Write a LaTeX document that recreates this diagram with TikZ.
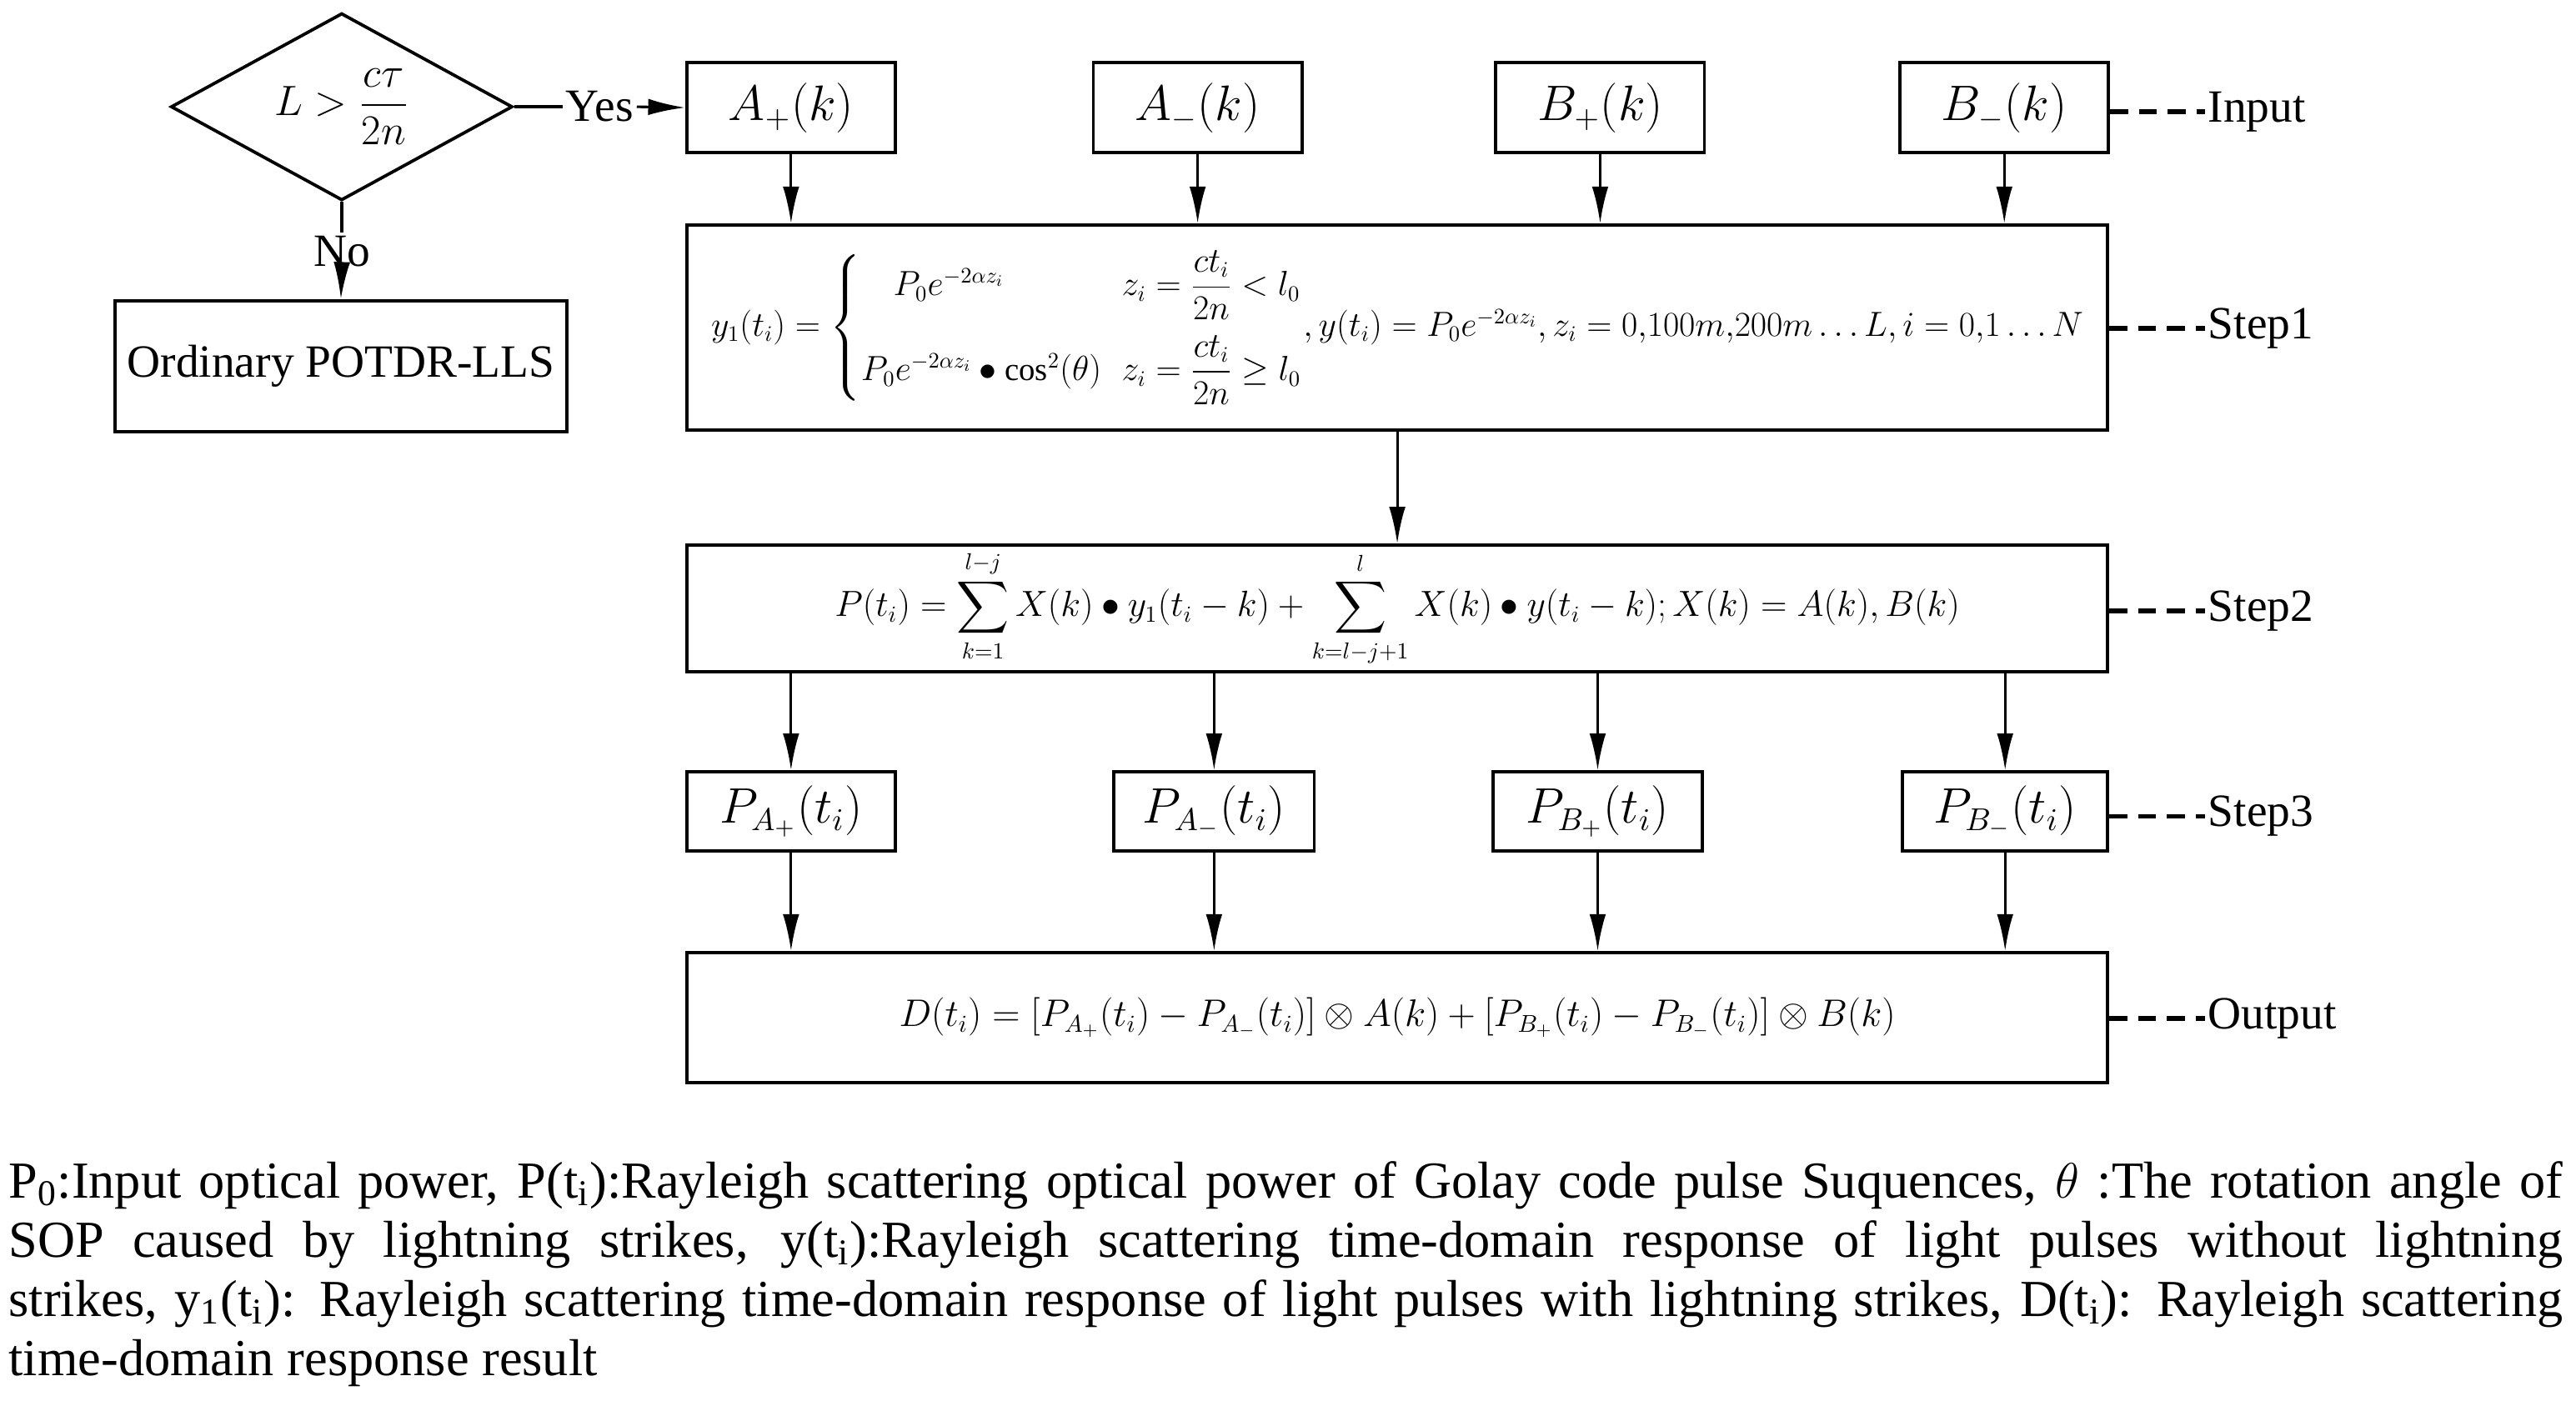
\documentclass[tikz,border=0pt]{standalone}
\usepackage{amsmath}
\usepackage{fontspec}
\setmainfont{Liberation Serif}
\usetikzlibrary{arrows.meta,shapes.geometric}
\tikzset{
  box/.style={draw,line width=1.1pt,inner sep=0pt,align=center},
  arr/.style={-{Latex[length=0.45cm,width=0.2cm]},line width=0.9pt},
  dsh/.style={line width=1.6pt,dash pattern=on 0.22cm off 0.13cm},
  lab/.style={inner sep=1pt},
}
\begin{document}
\begin{tikzpicture}[x=0.02cm,y=-0.02cm,font=\fontsize{16}{19}\selectfont]
\useasboundingbox (0,0) rectangle (1568,853);

% decision
\node[box,diamond,aspect=1.82,minimum width=4.16cm,minimum height=2.28cm] (dia) at (208,65) {\scalebox{0.85}{$L>\dfrac{c\tau}{2n}$}};
\node[box,minimum width=5.5cm,minimum height=1.6cm] (ord) at (207.5,223) {Ordinary POTDR-LLS};
\node[lab] (yes) at (365,65) {Yes};
\node[lab,fill=white] (no) at (208,153) {No};

% inputs
\node[box,minimum width=2.54cm,minimum height=1.1cm] (Ap) at (481.5,65.5) {$A_{+}(k)$};
\node[box,minimum width=2.54cm,minimum height=1.1cm] (Am) at (729,65.5) {$A_{-}(k)$};
\node[box,minimum width=2.54cm,minimum height=1.1cm] (Bp) at (974,65.5) {$B_{+}(k)$};
\node[box,minimum width=2.54cm,minimum height=1.1cm] (Bm) at (1220,65.5) {$B_{-}(k)$};

% steps
\node[box,minimum width=17.3cm,minimum height=2.5cm] (s1) at (850.5,199.5) {\scalebox{0.7}{$y_1(t_i)=\left\{\begin{array}{@{}ll@{}} \quad P_0e^{-2\alpha z_i} & z_i=\dfrac{ct_i}{2n}<l_0\\[14pt] P_0e^{-2\alpha z_i}\bullet\cos^2(\theta) & z_i=\dfrac{ct_i}{2n}\ge l_0\end{array}\right.\!,y(t_i)=P_0e^{-2\alpha z_i},z_i=0{,}100m{,}200m\ldots L,i=0{,}1\ldots N$}};
\node[box,minimum width=17.3cm,minimum height=1.54cm] (s2) at (850.5,370.5) {\scalebox{0.73}{$\displaystyle P(t_i)=\sum_{k=1}^{l-j}X(k)\bullet y_1(t_i-k)+\sum_{k=l-j+1}^{l}X(k)\bullet y(t_i-k);X(k)=A(k),B(k)$}};
\node[box,minimum width=2.54cm,minimum height=0.96cm] (PAp) at (481.5,494) {$P_{A_+}(t_i)$};
\node[box,minimum width=2.44cm,minimum height=0.96cm] (PAm) at (739,494) {$P_{A_-}(t_i)$};
\node[box,minimum width=2.54cm,minimum height=0.96cm] (PBp) at (972.5,494) {$P_{B_+}(t_i)$};
\node[box,minimum width=2.5cm,minimum height=0.96cm] (PBm) at (1220.5,494) {$P_{B_-}(t_i)$};
\node[box,minimum width=17.3cm,minimum height=1.58cm] (out) at (850.5,619.5) {\scalebox{0.77}{$D(t_i)=[P_{A_+}(t_i)-P_{A_-}(t_i)]\otimes A(k)+[P_{B_+}(t_i)-P_{B_-}(t_i)]\otimes B(k)$}};

% side labels
\node[lab,anchor=west] (lin) at (1342,68) {Input};
\node[lab,anchor=west] (l1) at (1342,200) {Step1};
\node[lab,anchor=west] (l2) at (1342,372) {Step2};
\node[lab,anchor=west] (l3) at (1342,497) {Step3};
\node[lab,anchor=west] (l4) at (1342,620) {Output};
\draw[dsh] (Bm.east|-lin) -- (lin.west);
\draw[dsh] (s1.east|-l1) -- (l1.west);
\draw[dsh] (s2.east|-l2) -- (l2.west);
\draw[dsh] (PBm.east|-l3) -- (l3.west);
\draw[dsh] (out.east|-l4) -- (l4.west);

% connectors
\draw[line width=1.1pt] (dia.east) -- (yes.west);
\draw[arr] (yes.east) -- (Ap.west);
\draw[line width=1.1pt] (dia.south) -- (no.north);
\draw[arr] (no.south) -- (ord.north);
\foreach \n in {Ap,Am,Bp,Bm} \draw[arr] (\n.south) -- (\n.south|-s1.north);
\draw[arr] (s1.south) -- (s2.north);
\foreach \n in {PAp,PAm,PBp,PBm} {
  \draw[arr] (\n.north|-s2.south) -- (\n.north);
  \draw[arr] (\n.south) -- (\n.south|-out.north);
}

% caption
\node[anchor=north west,inner sep=0pt,text width=31.1cm,align=justify,font=\fontsize{18}{20.5}\selectfont] (cap) at (5,707) {P\textsubscript{0}:Input optical power, P(t\textsubscript{i}):Rayleigh scattering optical power of Golay code pulse Suquences, $\theta$ :The rotation angle of\linebreak SOP caused by lightning strikes, y(t\textsubscript{i}):Rayleigh scattering time-domain response of light pulses without lightning\linebreak strikes, y\textsubscript{1}(t\textsubscript{i}): Rayleigh scattering time-domain response of light pulses with lightning strikes, D(t\textsubscript{i}): Rayleigh scattering\linebreak time-domain response result};
\end{tikzpicture}
\end{document}
